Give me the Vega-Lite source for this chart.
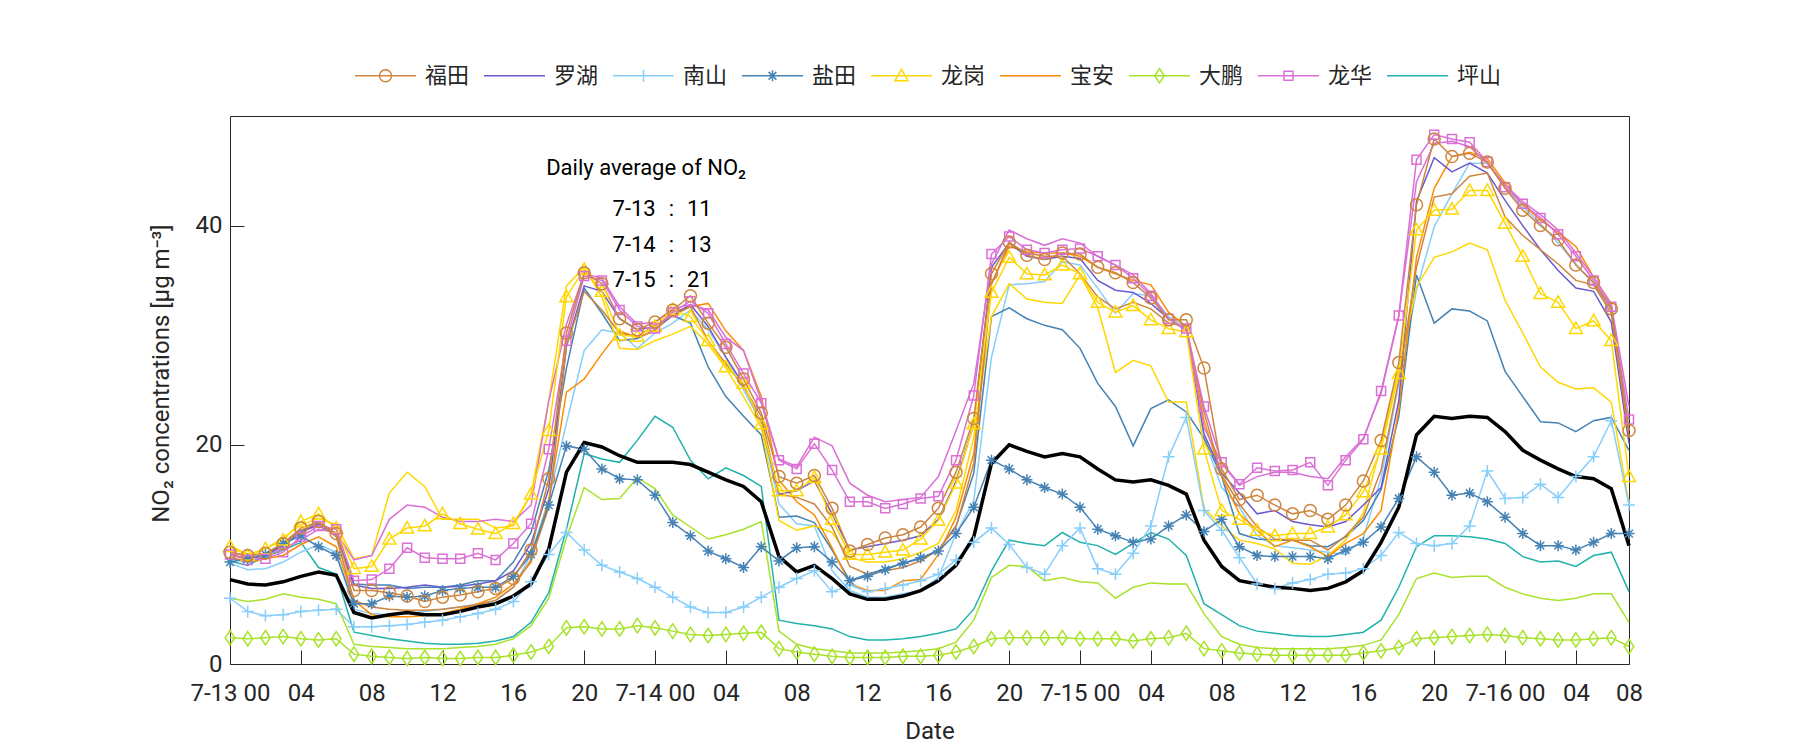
{
"$schema": "https://vega.github.io/schema/vega-lite/v6.json",
"width": 1399, "height": 548,
"autosize": {"type": "none"},
"padding": {"left": 230, "top": 116, "right": 171, "bottom": 86},
"background": "white",
"config": {"view": {"stroke": "#262626", "strokeWidth": 1}, "font": "Roboto"},
"datasets": {
"xt": [{"h":4},{"h":8},{"h":12},{"h":16},{"h":20},{"h":24},{"h":28},{"h":32},{"h":36},{"h":40},{"h":44},{"h":48},{"h":52},{"h":56},{"h":60},{"h":64},{"h":68},{"h":72},{"h":76}],
"yt": [{"y":20},{"y":40}],
"福田": [{"h":0,"y":10.2},{"h":1,"y":9.9},{"h":2,"y":10.1},{"h":3,"y":11.0},{"h":4,"y":12.4},{"h":5,"y":13.0},{"h":6,"y":11.9},{"h":7,"y":6.7},{"h":8,"y":6.7},{"h":9,"y":6.5},{"h":10,"y":6.2},{"h":11,"y":5.7},{"h":12,"y":6.1},{"h":13,"y":6.3},{"h":14,"y":6.6},{"h":15,"y":6.9},{"h":16,"y":7.8},{"h":17,"y":10.4},{"h":18,"y":16.9},{"h":19,"y":30.2},{"h":20,"y":35.7},{"h":21,"y":34.7},{"h":22,"y":31.5},{"h":23,"y":30.5},{"h":24,"y":31.2},{"h":25,"y":32.3},{"h":26,"y":33.6},{"h":27,"y":31.1},{"h":28,"y":28.9},{"h":29,"y":26.0},{"h":30,"y":22.9},{"h":31,"y":17.1},{"h":32,"y":16.5},{"h":33,"y":17.2},{"h":34,"y":14.2},{"h":35,"y":10.3},{"h":36,"y":10.9},{"h":37,"y":11.5},{"h":38,"y":11.8},{"h":39,"y":12.5},{"h":40,"y":14.2},{"h":41,"y":17.5},{"h":42,"y":22.4},{"h":43,"y":35.6},{"h":44,"y":38.5},{"h":45,"y":37.3},{"h":46,"y":36.9},{"h":47,"y":37.5},{"h":48,"y":37.4},{"h":49,"y":36.2},{"h":50,"y":35.7},{"h":51,"y":34.8},{"h":52,"y":33.4},{"h":53,"y":31.4},{"h":54,"y":31.4},{"h":55,"y":27.0},{"h":56,"y":17.8},{"h":57,"y":15.0},{"h":58,"y":15.4},{"h":59,"y":14.5},{"h":60,"y":13.7},{"h":61,"y":14.0},{"h":62,"y":13.2},{"h":63,"y":14.5},{"h":64,"y":16.7},{"h":65,"y":20.4},{"h":66,"y":27.5},{"h":67,"y":41.9},{"h":68,"y":47.9},{"h":69,"y":46.3},{"h":70,"y":46.6},{"h":71,"y":45.8},{"h":72,"y":43.4},{"h":73,"y":41.4},{"h":74,"y":40.0},{"h":75,"y":38.7},{"h":76,"y":36.4},{"h":77,"y":34.8},{"h":78,"y":32.4},{"h":79,"y":21.3}],
"福田2": [{"h":0,"y":10.0},{"h":1,"y":9.6},{"h":2,"y":10.0},{"h":3,"y":11.0},{"h":4,"y":12.2},{"h":5,"y":12.9},{"h":6,"y":11.6},{"h":7,"y":5.8},{"h":8,"y":5.2},{"h":9,"y":5.0},{"h":10,"y":4.9},{"h":11,"y":4.9},{"h":12,"y":5.0},{"h":13,"y":5.2},{"h":14,"y":5.4},{"h":15,"y":5.8},{"h":16,"y":7.0},{"h":17,"y":9.5},{"h":18,"y":14.3},{"h":19,"y":29.0},{"h":20,"y":34.0},{"h":21,"y":32.3},{"h":22,"y":30.2},{"h":23,"y":29.9},{"h":24,"y":30.9},{"h":25,"y":31.8},{"h":26,"y":32.6},{"h":27,"y":29.5},{"h":28,"y":27.4},{"h":29,"y":25.3},{"h":30,"y":22.6},{"h":31,"y":15.5},{"h":32,"y":15.2},{"h":33,"y":14.6},{"h":34,"y":12.5},{"h":35,"y":8.9},{"h":36,"y":8.2},{"h":37,"y":8.5},{"h":38,"y":8.8},{"h":39,"y":9.4},{"h":40,"y":10.4},{"h":41,"y":12.5},{"h":42,"y":18.3},{"h":43,"y":34.7},{"h":44,"y":38.4},{"h":45,"y":37.5},{"h":46,"y":37.2},{"h":47,"y":37.2},{"h":48,"y":35.6},{"h":49,"y":33.5},{"h":50,"y":32.4},{"h":51,"y":33.0},{"h":52,"y":32.4},{"h":53,"y":31.1},{"h":54,"y":30.8},{"h":55,"y":23.0},{"h":56,"y":17.2},{"h":57,"y":14.6},{"h":58,"y":12.5},{"h":59,"y":11.4},{"h":60,"y":11.3},{"h":61,"y":11.3},{"h":62,"y":10.4},{"h":63,"y":11.7},{"h":64,"y":13.4},{"h":65,"y":17.7},{"h":66,"y":25.9},{"h":67,"y":36.2},{"h":68,"y":42.6},{"h":69,"y":42.9},{"h":70,"y":44.5},{"h":71,"y":44.8},{"h":72,"y":40.8},{"h":73,"y":39.1},{"h":74,"y":37.8},{"h":75,"y":36.5},{"h":76,"y":35.0},{"h":77,"y":34.6},{"h":78,"y":32.0},{"h":79,"y":20.7}],
"罗湖": [{"h":0,"y":10.0},{"h":1,"y":9.6},{"h":2,"y":9.9},{"h":3,"y":10.8},{"h":4,"y":12.0},{"h":5,"y":12.8},{"h":6,"y":11.8},{"h":7,"y":7.2},{"h":8,"y":6.9},{"h":9,"y":6.9},{"h":10,"y":7.0},{"h":11,"y":7.2},{"h":12,"y":7.0},{"h":13,"y":7.1},{"h":14,"y":7.3},{"h":15,"y":7.6},{"h":16,"y":8.5},{"h":17,"y":11.0},{"h":18,"y":16.0},{"h":19,"y":29.0},{"h":20,"y":34.5},{"h":21,"y":34.0},{"h":22,"y":31.5},{"h":23,"y":30.5},{"h":24,"y":30.8},{"h":25,"y":31.8},{"h":26,"y":32.8},{"h":27,"y":30.8},{"h":28,"y":28.0},{"h":29,"y":25.5},{"h":30,"y":22.0},{"h":31,"y":15.5},{"h":32,"y":15.8},{"h":33,"y":16.7},{"h":34,"y":13.7},{"h":35,"y":10.4},{"h":36,"y":10.7},{"h":37,"y":11.0},{"h":38,"y":11.3},{"h":39,"y":11.7},{"h":40,"y":13.2},{"h":41,"y":16.7},{"h":42,"y":21.9},{"h":43,"y":36.2},{"h":44,"y":38.4},{"h":45,"y":37.2},{"h":46,"y":36.9},{"h":47,"y":37.2},{"h":48,"y":37.0},{"h":49,"y":35.0},{"h":50,"y":34.1},{"h":51,"y":33.9},{"h":52,"y":32.9},{"h":53,"y":31.5},{"h":54,"y":30.5},{"h":55,"y":21.0},{"h":56,"y":17.4},{"h":57,"y":15.6},{"h":58,"y":13.7},{"h":59,"y":14.0},{"h":60,"y":13.0},{"h":61,"y":12.7},{"h":62,"y":12.5},{"h":63,"y":13.0},{"h":64,"y":14.5},{"h":65,"y":16.1},{"h":66,"y":24.0},{"h":67,"y":42.2},{"h":68,"y":46.2},{"h":69,"y":44.9},{"h":70,"y":45.7},{"h":71,"y":44.8},{"h":72,"y":42.3},{"h":73,"y":40.0},{"h":74,"y":37.8},{"h":75,"y":35.9},{"h":76,"y":34.3},{"h":77,"y":34.0},{"h":78,"y":31.2},{"h":79,"y":20.1}],
"南山": [{"h":0,"y":6.0},{"h":1,"y":4.8},{"h":2,"y":4.4},{"h":3,"y":4.5},{"h":4,"y":4.8},{"h":5,"y":4.9},{"h":6,"y":5.0},{"h":7,"y":3.4},{"h":8,"y":3.4},{"h":9,"y":3.5},{"h":10,"y":3.6},{"h":11,"y":3.8},{"h":12,"y":4.0},{"h":13,"y":4.3},{"h":14,"y":4.6},{"h":15,"y":5.0},{"h":16,"y":5.7},{"h":17,"y":7.5},{"h":18,"y":10.0},{"h":19,"y":12.0},{"h":20,"y":10.4},{"h":21,"y":9.0},{"h":22,"y":8.4},{"h":23,"y":7.8},{"h":24,"y":7.0},{"h":25,"y":6.1},{"h":26,"y":5.2},{"h":27,"y":4.7},{"h":28,"y":4.7},{"h":29,"y":5.2},{"h":30,"y":6.1},{"h":31,"y":7.0},{"h":32,"y":7.8},{"h":33,"y":8.5},{"h":34,"y":6.6},{"h":35,"y":7.2},{"h":36,"y":6.6},{"h":37,"y":6.9},{"h":38,"y":7.2},{"h":39,"y":7.6},{"h":40,"y":8.2},{"h":41,"y":9.5},{"h":42,"y":11.1},{"h":43,"y":12.4},{"h":44,"y":10.9},{"h":45,"y":8.8},{"h":46,"y":8.2},{"h":47,"y":10.8},{"h":48,"y":12.4},{"h":49,"y":8.7},{"h":50,"y":8.2},{"h":51,"y":10.1},{"h":52,"y":12.6},{"h":53,"y":18.9},{"h":54,"y":22.5},{"h":55,"y":14.0},{"h":56,"y":12.2},{"h":57,"y":9.7},{"h":58,"y":7.3},{"h":59,"y":6.9},{"h":60,"y":7.4},{"h":61,"y":7.7},{"h":62,"y":8.2},{"h":63,"y":8.3},{"h":64,"y":8.7},{"h":65,"y":9.9},{"h":66,"y":12.0},{"h":67,"y":11.0},{"h":68,"y":10.8},{"h":69,"y":11.0},{"h":70,"y":12.6},{"h":71,"y":17.6},{"h":72,"y":15.1},{"h":73,"y":15.2},{"h":74,"y":16.4},{"h":75,"y":15.2},{"h":76,"y":17.1},{"h":77,"y":18.9},{"h":78,"y":22.2},{"h":79,"y":14.5}],
"南山2": [{"h":0,"y":9.2},{"h":1,"y":8.6},{"h":2,"y":8.7},{"h":3,"y":9.3},{"h":4,"y":10.2},{"h":5,"y":10.9},{"h":6,"y":10.2},{"h":7,"y":5.0},{"h":8,"y":4.6},{"h":9,"y":4.5},{"h":10,"y":4.6},{"h":11,"y":4.8},{"h":12,"y":5.0},{"h":13,"y":5.2},{"h":14,"y":5.5},{"h":15,"y":5.8},{"h":16,"y":7.0},{"h":17,"y":10.0},{"h":18,"y":15.0},{"h":19,"y":22.0},{"h":20,"y":28.6},{"h":21,"y":30.5},{"h":22,"y":30.2},{"h":23,"y":28.8},{"h":24,"y":30.2},{"h":25,"y":31.1},{"h":26,"y":32.3},{"h":27,"y":30.5},{"h":28,"y":28.0},{"h":29,"y":25.0},{"h":30,"y":22.0},{"h":31,"y":14.6},{"h":32,"y":12.8},{"h":33,"y":12.6},{"h":34,"y":8.5},{"h":35,"y":6.7},{"h":36,"y":6.1},{"h":37,"y":6.1},{"h":38,"y":6.4},{"h":39,"y":6.7},{"h":40,"y":7.9},{"h":41,"y":11.9},{"h":42,"y":14.9},{"h":43,"y":28.0},{"h":44,"y":34.6},{"h":45,"y":34.7},{"h":46,"y":34.9},{"h":47,"y":36.7},{"h":48,"y":36.4},{"h":49,"y":34.3},{"h":50,"y":32.0},{"h":51,"y":33.8},{"h":52,"y":33.6},{"h":53,"y":31.7},{"h":54,"y":30.8},{"h":55,"y":20.6},{"h":56,"y":16.1},{"h":57,"y":14.3},{"h":58,"y":11.7},{"h":59,"y":10.8},{"h":60,"y":10.6},{"h":61,"y":10.4},{"h":62,"y":10.2},{"h":63,"y":10.0},{"h":64,"y":11.5},{"h":65,"y":17.0},{"h":66,"y":25.6},{"h":67,"y":34.1},{"h":68,"y":39.9},{"h":69,"y":42.9},{"h":70,"y":45.7},{"h":71,"y":45.7},{"h":72,"y":43.5},{"h":73,"y":41.7},{"h":74,"y":40.2},{"h":75,"y":38.4},{"h":76,"y":36.5},{"h":77,"y":34.7},{"h":78,"y":32.3},{"h":79,"y":21.3}],
"盐田": [{"h":0,"y":9.3},{"h":1,"y":9.6},{"h":2,"y":10.0},{"h":3,"y":11.0},{"h":4,"y":11.7},{"h":5,"y":10.7},{"h":6,"y":9.9},{"h":7,"y":5.5},{"h":8,"y":5.5},{"h":9,"y":6.2},{"h":10,"y":6.1},{"h":11,"y":6.2},{"h":12,"y":6.7},{"h":13,"y":6.9},{"h":14,"y":7.0},{"h":15,"y":7.0},{"h":16,"y":8.0},{"h":17,"y":10.0},{"h":18,"y":14.5},{"h":19,"y":19.9},{"h":20,"y":19.6},{"h":21,"y":17.8},{"h":22,"y":16.9},{"h":23,"y":16.8},{"h":24,"y":15.4},{"h":25,"y":12.9},{"h":26,"y":11.7},{"h":27,"y":10.3},{"h":28,"y":9.6},{"h":29,"y":8.8},{"h":30,"y":10.7},{"h":31,"y":9.4},{"h":32,"y":10.6},{"h":33,"y":10.7},{"h":34,"y":9.3},{"h":35,"y":7.6},{"h":36,"y":8.0},{"h":37,"y":8.6},{"h":38,"y":9.2},{"h":39,"y":9.7},{"h":40,"y":10.3},{"h":41,"y":11.9},{"h":42,"y":14.3},{"h":43,"y":18.6},{"h":44,"y":17.8},{"h":45,"y":16.8},{"h":46,"y":16.1},{"h":47,"y":15.5},{"h":48,"y":14.3},{"h":49,"y":12.3},{"h":50,"y":11.7},{"h":51,"y":11.1},{"h":52,"y":11.4},{"h":53,"y":12.6},{"h":54,"y":13.6},{"h":55,"y":12.1},{"h":56,"y":13.2},{"h":57,"y":10.7},{"h":58,"y":9.9},{"h":59,"y":9.8},{"h":60,"y":9.8},{"h":61,"y":9.8},{"h":62,"y":9.6},{"h":63,"y":10.4},{"h":64,"y":11.1},{"h":65,"y":12.5},{"h":66,"y":15.1},{"h":67,"y":18.9},{"h":68,"y":17.5},{"h":69,"y":15.4},{"h":70,"y":15.6},{"h":71,"y":14.8},{"h":72,"y":13.4},{"h":73,"y":11.9},{"h":74,"y":10.8},{"h":75,"y":10.8},{"h":76,"y":10.4},{"h":77,"y":11.1},{"h":78,"y":11.9},{"h":79,"y":11.9}],
"盐田2": [{"h":0,"y":9.6},{"h":1,"y":9.3},{"h":2,"y":9.8},{"h":3,"y":11.0},{"h":4,"y":12.2},{"h":5,"y":12.6},{"h":6,"y":11.8},{"h":7,"y":7.3},{"h":8,"y":7.2},{"h":9,"y":7.2},{"h":10,"y":6.9},{"h":11,"y":7.0},{"h":12,"y":7.0},{"h":13,"y":7.2},{"h":14,"y":7.6},{"h":15,"y":7.6},{"h":16,"y":9.3},{"h":17,"y":12.0},{"h":18,"y":17.7},{"h":19,"y":27.0},{"h":20,"y":34.3},{"h":21,"y":32.0},{"h":22,"y":29.5},{"h":23,"y":29.7},{"h":24,"y":30.5},{"h":25,"y":31.8},{"h":26,"y":31.1},{"h":27,"y":27.1},{"h":28,"y":24.4},{"h":29,"y":22.6},{"h":30,"y":20.9},{"h":31,"y":13.4},{"h":32,"y":13.5},{"h":33,"y":12.9},{"h":34,"y":10.4},{"h":35,"y":7.6},{"h":36,"y":8.2},{"h":37,"y":8.7},{"h":38,"y":9.2},{"h":39,"y":9.6},{"h":40,"y":10.4},{"h":41,"y":12.6},{"h":42,"y":17.4},{"h":43,"y":31.7},{"h":44,"y":32.5},{"h":45,"y":31.5},{"h":46,"y":30.9},{"h":47,"y":30.5},{"h":48,"y":28.8},{"h":49,"y":25.6},{"h":50,"y":23.5},{"h":51,"y":19.9},{"h":52,"y":23.3},{"h":53,"y":24.1},{"h":54,"y":23.0},{"h":55,"y":20.6},{"h":56,"y":17.1},{"h":57,"y":11.9},{"h":58,"y":11.4},{"h":59,"y":11.3},{"h":60,"y":11.3},{"h":61,"y":10.8},{"h":62,"y":10.7},{"h":63,"y":11.6},{"h":64,"y":13.1},{"h":65,"y":15.9},{"h":66,"y":22.6},{"h":67,"y":35.5},{"h":68,"y":31.1},{"h":69,"y":32.4},{"h":70,"y":32.2},{"h":71,"y":31.3},{"h":72,"y":26.7},{"h":73,"y":24.4},{"h":74,"y":22.1},{"h":75,"y":22.0},{"h":76,"y":21.2},{"h":77,"y":22.2},{"h":78,"y":22.5},{"h":79,"y":19.5}],
"龙岗": [{"h":0,"y":10.7},{"h":1,"y":9.9},{"h":2,"y":10.5},{"h":3,"y":11.3},{"h":4,"y":13.0},{"h":5,"y":13.7},{"h":6,"y":12.4},{"h":7,"y":8.7},{"h":8,"y":8.9},{"h":9,"y":11.4},{"h":10,"y":12.4},{"h":11,"y":12.6},{"h":12,"y":13.7},{"h":13,"y":12.8},{"h":14,"y":12.3},{"h":15,"y":11.9},{"h":16,"y":12.8},{"h":17,"y":15.5},{"h":18,"y":21.3},{"h":19,"y":33.5},{"h":20,"y":36.0},{"h":21,"y":34.0},{"h":22,"y":30.0},{"h":23,"y":29.9},{"h":24,"y":30.8},{"h":25,"y":32.3},{"h":26,"y":31.7},{"h":27,"y":29.5},{"h":28,"y":27.1},{"h":29,"y":25.6},{"h":30,"y":21.9},{"h":31,"y":15.8},{"h":32,"y":15.8},{"h":33,"y":17.0},{"h":34,"y":13.2},{"h":35,"y":10.0},{"h":36,"y":10.0},{"h":37,"y":10.2},{"h":38,"y":10.4},{"h":39,"y":11.4},{"h":40,"y":13.1},{"h":41,"y":16.5},{"h":42,"y":21.9},{"h":43,"y":33.9},{"h":44,"y":37.1},{"h":45,"y":35.6},{"h":46,"y":35.5},{"h":47,"y":36.4},{"h":48,"y":35.6},{"h":49,"y":33.0},{"h":50,"y":32.1},{"h":51,"y":32.7},{"h":52,"y":31.4},{"h":53,"y":30.6},{"h":54,"y":30.3},{"h":55,"y":19.6},{"h":56,"y":14.0},{"h":57,"y":13.2},{"h":58,"y":12.2},{"h":59,"y":11.7},{"h":60,"y":11.9},{"h":61,"y":11.9},{"h":62,"y":12.5},{"h":63,"y":13.6},{"h":64,"y":15.7},{"h":65,"y":19.6},{"h":66,"y":26.5},{"h":67,"y":39.6},{"h":68,"y":41.4},{"h":69,"y":41.5},{"h":70,"y":43.2},{"h":71,"y":43.2},{"h":72,"y":40.2},{"h":73,"y":37.2},{"h":74,"y":33.8},{"h":75,"y":33.0},{"h":76,"y":30.6},{"h":77,"y":31.3},{"h":78,"y":29.5},{"h":79,"y":17.1}],
"龙岗2": [{"h":0,"y":10.8},{"h":1,"y":10.0},{"h":2,"y":10.5},{"h":3,"y":11.5},{"h":4,"y":12.7},{"h":5,"y":13.3},{"h":6,"y":12.7},{"h":7,"y":9.6},{"h":8,"y":9.9},{"h":9,"y":15.6},{"h":10,"y":17.5},{"h":11,"y":16.2},{"h":12,"y":13.2},{"h":13,"y":13.2},{"h":14,"y":13.2},{"h":15,"y":12.4},{"h":16,"y":12.6},{"h":17,"y":15.5},{"h":18,"y":24.0},{"h":19,"y":34.5},{"h":20,"y":36.2},{"h":21,"y":33.5},{"h":22,"y":28.8},{"h":23,"y":28.7},{"h":24,"y":29.5},{"h":25,"y":30.1},{"h":26,"y":30.8},{"h":27,"y":29.2},{"h":28,"y":27.0},{"h":29,"y":24.4},{"h":30,"y":21.6},{"h":31,"y":13.1},{"h":32,"y":12.2},{"h":33,"y":12.6},{"h":34,"y":12.0},{"h":35,"y":9.7},{"h":36,"y":9.3},{"h":37,"y":9.3},{"h":38,"y":9.6},{"h":39,"y":10.2},{"h":40,"y":11.0},{"h":41,"y":14.0},{"h":42,"y":20.7},{"h":43,"y":31.7},{"h":44,"y":34.7},{"h":45,"y":33.3},{"h":46,"y":33.0},{"h":47,"y":32.9},{"h":48,"y":35.5},{"h":49,"y":32.5},{"h":50,"y":26.6},{"h":51,"y":27.7},{"h":52,"y":27.2},{"h":53,"y":23.9},{"h":54,"y":23.9},{"h":55,"y":14.2},{"h":56,"y":12.6},{"h":57,"y":11.3},{"h":58,"y":11.0},{"h":59,"y":10.5},{"h":60,"y":9.2},{"h":61,"y":9.1},{"h":62,"y":9.9},{"h":63,"y":11.3},{"h":64,"y":13.8},{"h":65,"y":20.0},{"h":66,"y":26.8},{"h":67,"y":34.4},{"h":68,"y":37.1},{"h":69,"y":37.6},{"h":70,"y":38.4},{"h":71,"y":37.8},{"h":72,"y":33.2},{"h":73,"y":30.2},{"h":74,"y":27.1},{"h":75,"y":25.7},{"h":76,"y":25.1},{"h":77,"y":25.2},{"h":78,"y":23.9},{"h":79,"y":14.6}],
"宝安": [{"h":0,"y":9.8},{"h":1,"y":9.3},{"h":2,"y":9.6},{"h":3,"y":9.9},{"h":4,"y":10.9},{"h":5,"y":11.6},{"h":6,"y":10.7},{"h":7,"y":5.8},{"h":8,"y":4.5},{"h":9,"y":4.3},{"h":10,"y":4.3},{"h":11,"y":4.4},{"h":12,"y":4.6},{"h":13,"y":5.0},{"h":14,"y":5.5},{"h":15,"y":6.1},{"h":16,"y":7.3},{"h":17,"y":9.3},{"h":18,"y":15.0},{"h":19,"y":24.8},{"h":20,"y":26.0},{"h":21,"y":28.3},{"h":22,"y":30.4},{"h":23,"y":29.8},{"h":24,"y":30.4},{"h":25,"y":32.1},{"h":26,"y":32.6},{"h":27,"y":32.9},{"h":28,"y":30.4},{"h":29,"y":28.6},{"h":30,"y":24.4},{"h":31,"y":16.8},{"h":32,"y":14.8},{"h":33,"y":13.6},{"h":34,"y":10.6},{"h":35,"y":7.3},{"h":36,"y":6.7},{"h":37,"y":6.7},{"h":38,"y":7.6},{"h":39,"y":7.7},{"h":40,"y":10.0},{"h":41,"y":13.4},{"h":42,"y":19.2},{"h":43,"y":34.7},{"h":44,"y":38.1},{"h":45,"y":37.6},{"h":46,"y":37.5},{"h":47,"y":37.5},{"h":48,"y":37.2},{"h":49,"y":36.2},{"h":50,"y":35.6},{"h":51,"y":35.0},{"h":52,"y":34.6},{"h":53,"y":32.1},{"h":54,"y":30.8},{"h":55,"y":22.2},{"h":56,"y":17.1},{"h":57,"y":13.7},{"h":58,"y":12.2},{"h":59,"y":10.7},{"h":60,"y":11.3},{"h":61,"y":10.7},{"h":62,"y":9.8},{"h":63,"y":11.0},{"h":64,"y":11.9},{"h":65,"y":14.0},{"h":66,"y":23.2},{"h":67,"y":37.1},{"h":68,"y":43.4},{"h":69,"y":46.3},{"h":70,"y":46.7},{"h":71,"y":46.1},{"h":72,"y":43.9},{"h":73,"y":41.9},{"h":74,"y":40.5},{"h":75,"y":39.4},{"h":76,"y":38.1},{"h":77,"y":35.3},{"h":78,"y":32.9},{"h":79,"y":20.6}],
"大鹏": [{"h":0,"y":2.4},{"h":1,"y":2.3},{"h":2,"y":2.4},{"h":3,"y":2.5},{"h":4,"y":2.3},{"h":5,"y":2.2},{"h":6,"y":2.3},{"h":7,"y":0.9},{"h":8,"y":0.7},{"h":9,"y":0.6},{"h":10,"y":0.5},{"h":11,"y":0.6},{"h":12,"y":0.5},{"h":13,"y":0.5},{"h":14,"y":0.6},{"h":15,"y":0.6},{"h":16,"y":0.8},{"h":17,"y":1.1},{"h":18,"y":1.6},{"h":19,"y":3.3},{"h":20,"y":3.4},{"h":21,"y":3.2},{"h":22,"y":3.2},{"h":23,"y":3.5},{"h":24,"y":3.3},{"h":25,"y":3.0},{"h":26,"y":2.7},{"h":27,"y":2.6},{"h":28,"y":2.7},{"h":29,"y":2.8},{"h":30,"y":2.9},{"h":31,"y":1.4},{"h":32,"y":1.1},{"h":33,"y":0.9},{"h":34,"y":0.7},{"h":35,"y":0.6},{"h":36,"y":0.6},{"h":37,"y":0.6},{"h":38,"y":0.7},{"h":39,"y":0.7},{"h":40,"y":0.8},{"h":41,"y":1.1},{"h":42,"y":1.6},{"h":43,"y":2.3},{"h":44,"y":2.4},{"h":45,"y":2.4},{"h":46,"y":2.4},{"h":47,"y":2.4},{"h":48,"y":2.3},{"h":49,"y":2.3},{"h":50,"y":2.3},{"h":51,"y":2.1},{"h":52,"y":2.3},{"h":53,"y":2.4},{"h":54,"y":2.8},{"h":55,"y":1.4},{"h":56,"y":1.2},{"h":57,"y":1.0},{"h":58,"y":0.9},{"h":59,"y":0.8},{"h":60,"y":0.8},{"h":61,"y":0.8},{"h":62,"y":0.8},{"h":63,"y":0.8},{"h":64,"y":1.0},{"h":65,"y":1.2},{"h":66,"y":1.5},{"h":67,"y":2.3},{"h":68,"y":2.4},{"h":69,"y":2.5},{"h":70,"y":2.6},{"h":71,"y":2.7},{"h":72,"y":2.6},{"h":73,"y":2.4},{"h":74,"y":2.3},{"h":75,"y":2.2},{"h":76,"y":2.2},{"h":77,"y":2.3},{"h":78,"y":2.4},{"h":79,"y":1.6}],
"大鹏2": [{"h":0,"y":6.0},{"h":1,"y":5.7},{"h":2,"y":5.9},{"h":3,"y":6.4},{"h":4,"y":6.1},{"h":5,"y":5.9},{"h":6,"y":5.5},{"h":7,"y":1.8},{"h":8,"y":1.6},{"h":9,"y":1.5},{"h":10,"y":1.4},{"h":11,"y":1.4},{"h":12,"y":1.4},{"h":13,"y":1.5},{"h":14,"y":1.6},{"h":15,"y":1.8},{"h":16,"y":2.3},{"h":17,"y":3.5},{"h":18,"y":6.0},{"h":19,"y":11.5},{"h":20,"y":16.1},{"h":21,"y":15.0},{"h":22,"y":15.1},{"h":23,"y":17.0},{"h":24,"y":16.0},{"h":25,"y":13.6},{"h":26,"y":12.5},{"h":27,"y":11.4},{"h":28,"y":11.8},{"h":29,"y":12.3},{"h":30,"y":13.0},{"h":31,"y":3.0},{"h":32,"y":1.8},{"h":33,"y":1.4},{"h":34,"y":1.2},{"h":35,"y":1.0},{"h":36,"y":1.0},{"h":37,"y":1.0},{"h":38,"y":1.1},{"h":39,"y":1.2},{"h":40,"y":1.4},{"h":41,"y":2.0},{"h":42,"y":4.0},{"h":43,"y":7.9},{"h":44,"y":9.0},{"h":45,"y":8.9},{"h":46,"y":7.6},{"h":47,"y":7.9},{"h":48,"y":7.5},{"h":49,"y":7.4},{"h":50,"y":6.0},{"h":51,"y":7.0},{"h":52,"y":7.4},{"h":53,"y":7.3},{"h":54,"y":7.3},{"h":55,"y":4.6},{"h":56,"y":2.5},{"h":57,"y":1.8},{"h":58,"y":1.5},{"h":59,"y":1.4},{"h":60,"y":1.4},{"h":61,"y":1.4},{"h":62,"y":1.4},{"h":63,"y":1.5},{"h":64,"y":1.7},{"h":65,"y":2.2},{"h":66,"y":4.5},{"h":67,"y":7.8},{"h":68,"y":8.3},{"h":69,"y":7.9},{"h":70,"y":8.0},{"h":71,"y":8.0},{"h":72,"y":7.0},{"h":73,"y":6.4},{"h":74,"y":6.0},{"h":75,"y":5.8},{"h":76,"y":6.0},{"h":77,"y":6.4},{"h":78,"y":6.4},{"h":79,"y":3.8}],
"龙华": [{"h":0,"y":10.0},{"h":1,"y":9.5},{"h":2,"y":9.6},{"h":3,"y":10.2},{"h":4,"y":11.6},{"h":5,"y":12.6},{"h":6,"y":12.3},{"h":7,"y":7.6},{"h":8,"y":7.7},{"h":9,"y":8.7},{"h":10,"y":10.6},{"h":11,"y":9.7},{"h":12,"y":9.6},{"h":13,"y":9.6},{"h":14,"y":10.1},{"h":15,"y":9.5},{"h":16,"y":11.0},{"h":17,"y":12.8},{"h":18,"y":19.6},{"h":19,"y":29.5},{"h":20,"y":35.4},{"h":21,"y":35.0},{"h":22,"y":32.3},{"h":23,"y":30.8},{"h":24,"y":30.6},{"h":25,"y":32.1},{"h":26,"y":33.1},{"h":27,"y":32.0},{"h":28,"y":29.2},{"h":29,"y":26.5},{"h":30,"y":23.8},{"h":31,"y":18.6},{"h":32,"y":17.8},{"h":33,"y":20.1},{"h":34,"y":17.7},{"h":35,"y":14.8},{"h":36,"y":14.8},{"h":37,"y":14.2},{"h":38,"y":14.6},{"h":39,"y":15.1},{"h":40,"y":15.3},{"h":41,"y":18.6},{"h":42,"y":24.5},{"h":43,"y":37.4},{"h":44,"y":39.0},{"h":45,"y":37.8},{"h":46,"y":37.5},{"h":47,"y":37.8},{"h":48,"y":37.9},{"h":49,"y":37.2},{"h":50,"y":36.4},{"h":51,"y":35.2},{"h":52,"y":33.6},{"h":53,"y":31.5},{"h":54,"y":30.6},{"h":55,"y":23.5},{"h":56,"y":18.4},{"h":57,"y":16.4},{"h":58,"y":17.9},{"h":59,"y":17.6},{"h":60,"y":17.7},{"h":61,"y":18.4},{"h":62,"y":16.3},{"h":63,"y":18.6},{"h":64,"y":20.5},{"h":65,"y":24.9},{"h":66,"y":31.8},{"h":67,"y":46.0},{"h":68,"y":48.3},{"h":69,"y":47.9},{"h":70,"y":47.6},{"h":71,"y":45.8},{"h":72,"y":43.5},{"h":73,"y":42.0},{"h":74,"y":40.7},{"h":75,"y":39.2},{"h":76,"y":37.2},{"h":77,"y":35.0},{"h":78,"y":32.6},{"h":79,"y":22.3}],
"龙华2": [{"h":0,"y":10.2},{"h":1,"y":9.8},{"h":2,"y":9.9},{"h":3,"y":10.5},{"h":4,"y":11.3},{"h":5,"y":12.3},{"h":6,"y":12.0},{"h":7,"y":9.5},{"h":8,"y":9.9},{"h":9,"y":13.2},{"h":10,"y":14.5},{"h":11,"y":14.3},{"h":12,"y":13.4},{"h":13,"y":13.0},{"h":14,"y":13.0},{"h":15,"y":13.2},{"h":16,"y":13.0},{"h":17,"y":14.5},{"h":18,"y":24.0},{"h":19,"y":31.0},{"h":20,"y":35.6},{"h":21,"y":35.2},{"h":22,"y":32.6},{"h":23,"y":31.0},{"h":24,"y":31.2},{"h":25,"y":32.4},{"h":26,"y":32.8},{"h":27,"y":32.3},{"h":28,"y":29.8},{"h":29,"y":28.6},{"h":30,"y":24.0},{"h":31,"y":18.7},{"h":32,"y":18.0},{"h":33,"y":20.7},{"h":34,"y":19.9},{"h":35,"y":16.5},{"h":36,"y":15.4},{"h":37,"y":14.8},{"h":38,"y":15.0},{"h":39,"y":15.2},{"h":40,"y":17.1},{"h":41,"y":21.3},{"h":42,"y":25.6},{"h":43,"y":36.5},{"h":44,"y":39.6},{"h":45,"y":38.8},{"h":46,"y":38.2},{"h":47,"y":38.8},{"h":48,"y":38.4},{"h":49,"y":37.2},{"h":50,"y":36.4},{"h":51,"y":35.5},{"h":52,"y":33.8},{"h":53,"y":31.5},{"h":54,"y":30.4},{"h":55,"y":21.6},{"h":56,"y":18.3},{"h":57,"y":16.3},{"h":58,"y":17.1},{"h":59,"y":17.5},{"h":60,"y":17.5},{"h":61,"y":17.1},{"h":62,"y":16.9},{"h":63,"y":18.9},{"h":64,"y":20.6},{"h":65,"y":24.7},{"h":66,"y":31.7},{"h":67,"y":44.0},{"h":68,"y":47.5},{"h":69,"y":47.7},{"h":70,"y":47.2},{"h":71,"y":45.7},{"h":72,"y":43.7},{"h":73,"y":42.2},{"h":74,"y":41.0},{"h":75,"y":39.6},{"h":76,"y":37.5},{"h":77,"y":35.3},{"h":78,"y":32.8},{"h":79,"y":23.5}],
"坪山": [{"h":0,"y":9.4},{"h":1,"y":9.0},{"h":2,"y":9.8},{"h":3,"y":10.4},{"h":4,"y":11.1},{"h":5,"y":8.8},{"h":6,"y":8.2},{"h":7,"y":2.9},{"h":8,"y":2.6},{"h":9,"y":2.3},{"h":10,"y":2.1},{"h":11,"y":1.9},{"h":12,"y":1.8},{"h":13,"y":1.8},{"h":14,"y":1.9},{"h":15,"y":2.1},{"h":16,"y":2.5},{"h":17,"y":3.8},{"h":18,"y":6.5},{"h":19,"y":12.3},{"h":20,"y":19.2},{"h":21,"y":18.7},{"h":22,"y":18.4},{"h":23,"y":20.4},{"h":24,"y":22.6},{"h":25,"y":21.6},{"h":26,"y":18.6},{"h":27,"y":16.9},{"h":28,"y":17.9},{"h":29,"y":17.2},{"h":30,"y":16.2},{"h":31,"y":4.0},{"h":32,"y":3.7},{"h":33,"y":3.5},{"h":34,"y":3.2},{"h":35,"y":2.5},{"h":36,"y":2.2},{"h":37,"y":2.2},{"h":38,"y":2.3},{"h":39,"y":2.5},{"h":40,"y":2.8},{"h":41,"y":3.2},{"h":42,"y":5.0},{"h":43,"y":8.5},{"h":44,"y":11.3},{"h":45,"y":11.0},{"h":46,"y":10.8},{"h":47,"y":12.0},{"h":48,"y":11.1},{"h":49,"y":10.8},{"h":50,"y":10.0},{"h":51,"y":11.0},{"h":52,"y":12.0},{"h":53,"y":11.4},{"h":54,"y":9.9},{"h":55,"y":5.5},{"h":56,"y":4.5},{"h":57,"y":3.5},{"h":58,"y":3.0},{"h":59,"y":2.8},{"h":60,"y":2.6},{"h":61,"y":2.5},{"h":62,"y":2.5},{"h":63,"y":2.7},{"h":64,"y":2.9},{"h":65,"y":4.0},{"h":66,"y":7.0},{"h":67,"y":10.7},{"h":68,"y":11.7},{"h":69,"y":11.7},{"h":70,"y":11.6},{"h":71,"y":11.4},{"h":72,"y":11.0},{"h":73,"y":9.8},{"h":74,"y":9.3},{"h":75,"y":9.4},{"h":76,"y":8.9},{"h":77,"y":9.9},{"h":78,"y":10.2},{"h":79,"y":6.6}],
"平均": [{"h":0,"y":7.7},{"h":1,"y":7.3},{"h":2,"y":7.2},{"h":3,"y":7.5},{"h":4,"y":8.0},{"h":5,"y":8.4},{"h":6,"y":8.1},{"h":7,"y":4.7},{"h":8,"y":4.2},{"h":9,"y":4.5},{"h":10,"y":4.7},{"h":11,"y":4.5},{"h":12,"y":4.5},{"h":13,"y":4.8},{"h":14,"y":5.2},{"h":15,"y":5.5},{"h":16,"y":6.2},{"h":17,"y":7.3},{"h":18,"y":10.5},{"h":19,"y":17.5},{"h":20,"y":20.2},{"h":21,"y":19.8},{"h":22,"y":19.0},{"h":23,"y":18.4},{"h":24,"y":18.4},{"h":25,"y":18.4},{"h":26,"y":18.2},{"h":27,"y":17.5},{"h":28,"y":16.8},{"h":29,"y":16.2},{"h":30,"y":14.8},{"h":31,"y":9.8},{"h":32,"y":8.4},{"h":33,"y":9.0},{"h":34,"y":7.8},{"h":35,"y":6.4},{"h":36,"y":5.9},{"h":37,"y":5.9},{"h":38,"y":6.2},{"h":39,"y":6.7},{"h":40,"y":7.6},{"h":41,"y":9.0},{"h":42,"y":11.6},{"h":43,"y":18.3},{"h":44,"y":20.0},{"h":45,"y":19.4},{"h":46,"y":18.9},{"h":47,"y":19.2},{"h":48,"y":18.9},{"h":49,"y":17.8},{"h":50,"y":16.8},{"h":51,"y":16.6},{"h":52,"y":16.8},{"h":53,"y":16.3},{"h":54,"y":15.5},{"h":55,"y":11.3},{"h":56,"y":8.9},{"h":57,"y":7.6},{"h":58,"y":7.3},{"h":59,"y":7.0},{"h":60,"y":6.9},{"h":61,"y":6.7},{"h":62,"y":6.9},{"h":63,"y":7.5},{"h":64,"y":8.5},{"h":65,"y":11.1},{"h":66,"y":14.3},{"h":67,"y":20.9},{"h":68,"y":22.6},{"h":69,"y":22.4},{"h":70,"y":22.6},{"h":71,"y":22.5},{"h":72,"y":21.2},{"h":73,"y":19.5},{"h":74,"y":18.6},{"h":75,"y":17.8},{"h":76,"y":17.1},{"h":77,"y":16.9},{"h":78,"y":16.0},{"h":79,"y":10.8}]
},
"encoding": {
  "x": {"field": "h", "type": "quantitative",
    "scale": {"domain": [0, 79], "nice": false, "zero": false},
    "axis": {"values": [0,4,8,12,16,20,24,28,32,36,40,44,48,52,56,60,64,68,72,76,79],
      "labelExpr": "datum.value == 79 ? '08' : (datum.value % 24 == 0 ? '7-' + (13 + datum.value / 24) + ' 00' : ((datum.value % 24) < 10 ? '0' : '') + (datum.value % 24))",
      "ticks": true, "tickSize": -14, "tickColor": "#262626", "tickWidth": 1, "domain": false, "grid": false,
      "labelFont": "Roboto", "labelFontSize": 24, "labelColor": "#262626", "labelPadding": 31,
      "labelOverlap": false, "labelFlush": false, "labelBound": false,
      "title": "Date", "titleFont": "Roboto", "titleFontSize": 24, "titleFontWeight": "normal", "titleColor": "#262626", "titlePadding": 14}},
  "y": {"field": "y", "type": "quantitative",
    "scale": {"domain": [0, 50], "nice": false},
    "axis": {"values": [0, 20, 40], "ticks": true, "tickSize": -14, "tickColor": "#262626", "tickWidth": 1, "domain": false, "grid": false,
      "labelFont": "Roboto", "labelFontSize": 24, "labelColor": "#262626", "labelPadding": 22,
      "title": "NO₂ concentrations [μg m⁻³]", "titleFont": "Roboto", "titleFontSize": 24, "titleFontWeight": "normal", "titleColor": "#262626",
      "titleX": -69, "titleY": 257, "titleAngle": 270, "titleAlign": "center", "titleBaseline": "middle"}}
},
"layer": [
  {"data": {"name": "大鹏2"}, "mark": {"type": "line", "color": "#A8E22A", "strokeWidth": 1.5}, "encoding": {}},
  {"data": {"name": "坪山"}, "mark": {"type": "line", "color": "#20B2AA", "strokeWidth": 1.5}, "encoding": {}},
  {"data": {"name": "南山2"}, "mark": {"type": "line", "color": "#87CEFA", "strokeWidth": 1.5}, "encoding": {}},
  {"data": {"name": "盐田2"}, "mark": {"type": "line", "color": "#4682B4", "strokeWidth": 1.5}, "encoding": {}},
  {"data": {"name": "龙岗2"}, "mark": {"type": "line", "color": "#FFD700", "strokeWidth": 1.5}, "encoding": {}},
  {"data": {"name": "宝安"}, "mark": {"type": "line", "color": "#FF8C00", "strokeWidth": 1.5}, "encoding": {}},
  {"data": {"name": "罗湖"}, "mark": {"type": "line", "color": "#6A5ACD", "strokeWidth": 1.5}, "encoding": {}},
  {"data": {"name": "龙华2"}, "mark": {"type": "line", "color": "#DA70D6", "strokeWidth": 1.5}, "encoding": {}},
  {"data": {"name": "福田2"}, "mark": {"type": "line", "color": "#CD853F", "strokeWidth": 1.5}, "encoding": {}},
  {"data": {"name": "大鹏"}, "mark": {"type": "line", "color": "#A8E22A", "strokeWidth": 1.5}, "encoding": {}},
  {"data": {"name": "南山"}, "mark": {"type": "line", "color": "#87CEFA", "strokeWidth": 1.5}, "encoding": {}},
  {"data": {"name": "盐田"}, "mark": {"type": "line", "color": "#4682B4", "strokeWidth": 1.5}, "encoding": {}},
  {"data": {"name": "龙岗"}, "mark": {"type": "line", "color": "#FFD700", "strokeWidth": 1.5}, "encoding": {}},
  {"data": {"name": "龙华"}, "mark": {"type": "line", "color": "#DA70D6", "strokeWidth": 1.5}, "encoding": {}},
  {"data": {"name": "福田"}, "mark": {"type": "line", "color": "#CD853F", "strokeWidth": 1.5}, "encoding": {}},
  {"data": {"name": "平均"}, "mark": {"type": "line", "color": "#000000", "strokeWidth": 3.5}, "encoding": {}},
  {"data": {"name": "大鹏"}, "mark": {"type": "point", "shape": "M0,-1.2L0.8,0L0,1.2L-0.8,0Z", "size": 144, "filled": false, "opacity": 1, "color": "#A8E22A", "strokeWidth": 1.5}, "encoding": {}},
  {"data": {"name": "南山"}, "mark": {"type": "point", "shape": "M-1,0H1M0,-1V1", "size": 144, "filled": false, "opacity": 1, "color": "#87CEFA", "strokeWidth": 1.5}, "encoding": {}},
  {"data": {"name": "盐田"}, "mark": {"type": "point", "shape": "M-1,0H1M0,-1V1M-0.7,-0.7L0.7,0.7M-0.7,0.7L0.7,-0.7", "size": 121, "filled": false, "opacity": 1, "color": "#4682B4", "strokeWidth": 1.5}, "encoding": {}},
  {"data": {"name": "龙岗"}, "mark": {"type": "point", "shape": "M0,-1L1,0.75L-1,0.75Z", "size": 169, "filled": false, "opacity": 1, "color": "#FFD700", "strokeWidth": 1.5}, "encoding": {}},
  {"data": {"name": "龙华"}, "mark": {"type": "point", "shape": "M-1,-1H1V1H-1Z", "size": 81, "filled": false, "opacity": 1, "color": "#DA70D6", "strokeWidth": 1.5}, "encoding": {}},
  {"data": {"name": "福田"}, "mark": {"type": "point", "shape": "circle", "size": 144, "filled": false, "opacity": 1, "color": "#CD853F", "strokeWidth": 1.5}, "encoding": {}},
  {"data": {"name": "xt"}, "mark": {"type": "rule", "color": "#262626", "strokeWidth": 1}, "encoding": {"y": {"datum": 50}, "y2": {"datum": 48.72}}},
  {"data": {"name": "yt"}, "mark": {"type": "rule", "color": "#262626", "strokeWidth": 1}, "encoding": {"x": {"datum": 79}, "x2": {"datum": 78.21}}},
  {"data": {"values": [
      {"h": 23.5, "y": 45.3, "t": "Daily average of NO₂"},
      {"h": 24.4, "y": 41.5, "t": "7-13 \u2004: \u200411"},
      {"h": 24.4, "y": 38.2, "t": "7-14 \u2004: \u200413"},
      {"h": 24.4, "y": 35.0, "t": "7-15 \u2004: \u200421"}]},
   "mark": {"type": "text", "font": "Roboto", "fontSize": 22, "color": "#000000", "align": "center", "baseline": "middle"},
   "encoding": {"text": {"field": "t"}}},
  {"data": {"values": []},
   "mark": {"type": "point", "filled": false, "opacity": 1, "strokeWidth": 1.5},
   "encoding": {
     "color": {"field": "n", "type": "nominal",
       "scale": {"domain": ["福田","罗湖","南山","盐田","龙岗","宝安","大鹏","龙华","坪山"],
                 "range": ["#CD853F","#6A5ACD","#87CEFA","#4682B4","#FFD700","#FF8C00","#A8E22A","#DA70D6","#20B2AA"]},
       "legend": {"title": null, "orient": "none", "legendX": 124, "legendY": -72, "direction": "horizontal", "columns": 9,
         "labelFont": "Noto Sans CJK SC", "labelFontSize": 22, "labelColor": "#262626", "labelOffset": 8, "columnPadding": 11,
         "symbolSize": 3721, "symbolStrokeWidth": 1.5, "padding": 0, "symbolOpacity": 1}},
     "shape": {"field": "n", "type": "nominal",
       "scale": {"domain": ["福田","罗湖","南山","盐田","龙岗","宝安","大鹏","龙华","坪山"],
                 "range": [
                   "M-1,0H1M-0.197,0A0.197,0.197 0 1,1 0.197,0A0.197,0.197 0 1,1 -0.197,0",
                   "M-1,0H1",
                   "M-1,0H1M0,-0.197V0.197",
                   "M-1,0H1M0,-0.18V0.18M-0.127,-0.127L0.127,0.127M-0.127,0.127L0.127,-0.127",
                   "M-1,0H1M0,-0.213L0.213,0.16L-0.213,0.16Z",
                   "M-1,0H1",
                   "M-1,0H1M0,-0.236L0.157,0L0,0.236L-0.157,0Z",
                   "M-1,0H1M-0.148,-0.148H0.148V0.148H-0.148Z",
                   "M-1,0H1"]},
       "legend": {"title": null, "orient": "none", "legendX": 124, "legendY": -72, "direction": "horizontal", "columns": 9,
         "labelFont": "Noto Sans CJK SC", "labelFontSize": 22, "labelColor": "#262626", "labelOffset": 8, "columnPadding": 11,
         "symbolSize": 3721, "symbolStrokeWidth": 1.5, "padding": 0, "symbolOpacity": 1}}
   }}
]
}
